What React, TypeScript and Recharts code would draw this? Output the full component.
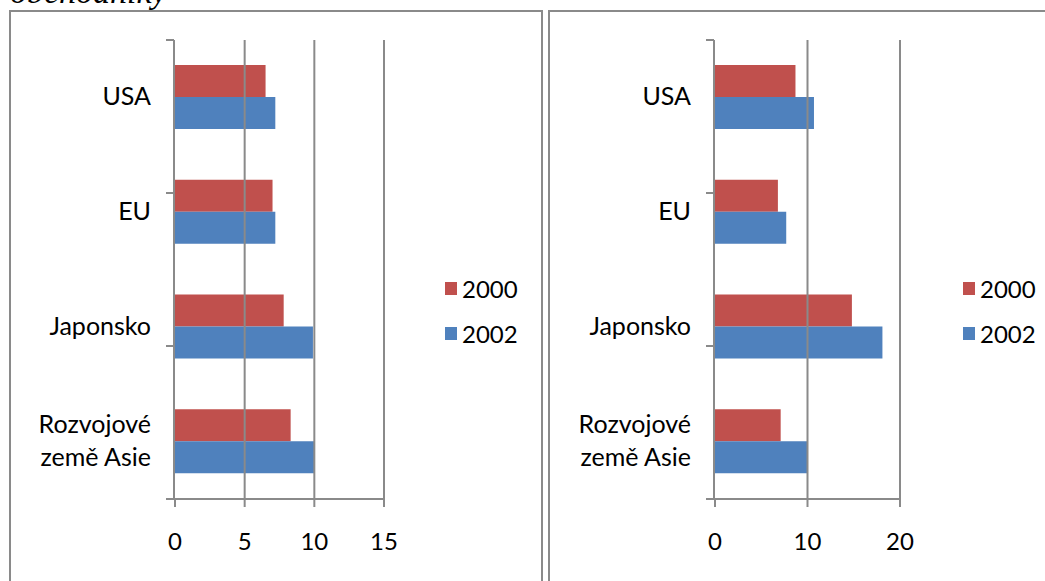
import React from 'react';
import { BarChart, Bar, XAxis, YAxis, Legend, ReferenceLine } from 'recharts';

const categories = ['USA', 'EU', 'Japonsko', 'Rozvojové země Asie'];
const seriesNames = ['2000', '2002'];
const leftValues2000 = [6.5, 7.0, 7.8, 8.3];
const leftValues2002 = [7.2, 7.2, 9.9, 10.0];
const rightValues2000 = [8.7, 6.8, 14.8, 7.1];
const rightValues2002 = [10.7, 7.7, 18.1, 10.0];
const leftTicks = [0, 5, 10, 15];
const rightTicks = [0, 10, 20];
const title = 'obchodníky';

const axisColor = '#8a8a8a';
const fontFamily = 'Lato, "Liberation Sans", sans-serif';

const CategoryTick = (props: any) => {
    const { x, y, payload } = props;
    const text: string = payload.value;
    const cut = text.indexOf(' ');
    const lines = text.length > 12 && cut > 0 ? [text.slice(0, cut), text.slice(cut + 1)] : [text];
    const lh = 33;
    return (
        <text x={x} y={y} textAnchor="end" fill="#000" fontSize={25} fontFamily={fontFamily}>
            {lines.map((line, i) => (
                <tspan key={i} x={x} dy={i === 0 ? (-(lines.length - 1) * lh) / 2 + 8 : lh}>
                    {line}
                </tspan>
            ))}
        </text>
    );
};

const renderLegend = (props: any) => (
    <div style={{ fontFamily, fontSize: 24, color: '#000' }}>
        {(props.payload || []).map((entry: any, i: number) => (
            <div key={i} style={{ display: 'flex', alignItems: 'center', height: 45 }}>
                <span style={{ width: 12, height: 13, background: entry.color, marginRight: 5, display: 'inline-block' }} />
                <span>{entry.value}</span>
            </div>
        ))}
    </div>
);

interface PanelProps {
    width: number;
    plotRight: number;
    v2000: number[];
    v2002: number[];
    ticks: number[];
    legendLeft: number;
}

function Panel({ width, plotRight, v2000, v2002, ticks, legendLeft }: PanelProps) {
    const data = categories.map((name, i) => ({ name, y2000: v2000[i], y2002: v2002[i] }));
    const edgeTicks = [...categories.map((_, i) => i), categories.length];
    const max = ticks[ticks.length - 1];

    return (
        <BarChart
            layout="vertical"
            width={width}
            height={581}
            data={data}
            margin={{ top: 40, right: width - plotRight, bottom: 22, left: 173 }}
            barSize={32}
            barGap={0}
        >
            <XAxis
                type="number"
                domain={[0, max]}
                ticks={ticks}
                height={60}
                tickSize={8}
                tickMargin={26}
                axisLine={{ stroke: axisColor, strokeWidth: 2 }}
                tickLine={{ stroke: axisColor, strokeWidth: 2 }}
                tick={{ fill: '#000', fontSize: 24, fontFamily }}
            />
            <YAxis
                yAxisId="edges"
                type="number"
                domain={[0, categories.length]}
                ticks={edgeTicks}
                allowDataOverflow
                width={1}
                tickSize={8}
                tickFormatter={() => ''}
                axisLine={{ stroke: axisColor, strokeWidth: 2 }}
                tickLine={{ stroke: axisColor, strokeWidth: 2 }}
            />
            <YAxis
                yAxisId="cat"
                type="category"
                dataKey="name"
                width={1}
                interval={0}
                tickSize={0}
                tickMargin={24}
                axisLine={false}
                tickLine={false}
                tick={<CategoryTick />}
            />
            <Bar yAxisId="cat" dataKey="y2000" name={seriesNames[0]} fill="#C0504D" isAnimationActive={false} />
            <Bar yAxisId="cat" dataKey="y2002" name={seriesNames[1]} fill="#4F81BD" isAnimationActive={false} />
            {ticks.slice(1).map((t) => (
                <ReferenceLine key={t} x={t} yAxisId="cat" stroke={axisColor} strokeWidth={2} />
            ))}
            <Legend
                layout="vertical"
                align="center"
                verticalAlign="middle"
                content={renderLegend}
                wrapperStyle={{ left: legendLeft, top: 266, width: 'auto' }}
            />
        </BarChart>
    );
}

export default function App() {
    return (
        <div style={{ position: 'fixed', left: 0, top: 0, width: 1045, height: 581, overflow: 'hidden', background: '#fff' }}>
            <div
                style={{
                    position: 'absolute',
                    left: 10,
                    top: -25,
                    fontFamily: '"Liberation Serif", serif',
                    fontStyle: 'italic',
                    fontSize: 34,
                    lineHeight: '34px',
                    color: '#000',
                }}
            >
                {title}
            </div>
            <div style={{ position: 'absolute', left: 9, top: 10, width: 530, height: 600, border: `2px solid ${axisColor}` }} />
            <div style={{ position: 'absolute', left: 548, top: 10, width: 600, height: 600, border: `2px solid ${axisColor}` }} />
            <div style={{ position: 'absolute', left: 0, top: 0 }}>
                <Panel width={540} plotRight={384} v2000={leftValues2000} v2002={leftValues2002} ticks={leftTicks} legendLeft={445} />
            </div>
            <div style={{ position: 'absolute', left: 540, top: 0 }}>
                <Panel width={505} plotRight={360} v2000={rightValues2000} v2002={rightValues2002} ticks={rightTicks} legendLeft={423} />
            </div>
        </div>
    );
}
